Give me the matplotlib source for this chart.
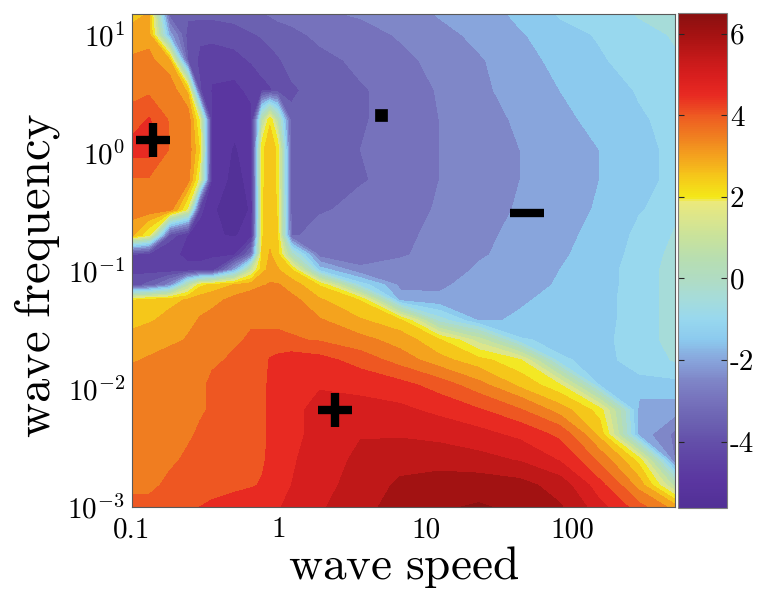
import numpy as np
import matplotlib
matplotlib.use("Agg")
import matplotlib.pyplot as plt
from matplotlib.colors import LinearSegmentedColormap, Normalize
from matplotlib.cm import ScalarMappable

plt.rcParams['mathtext.fontset'] = 'cm'

########## data
# grid columns (wave speed) and rows (wave frequency, top to bottom)
speed = [0.1, 0.13, 0.18, 0.24, 0.29, 0.35, 0.5, 0.65, 0.77, 0.87, 0.98, 1.22,
         1.9, 3.6, 6.7, 12.4, 23, 44, 82, 153, 286, 500]
freq = [15, 10, 6.1, 3.4, 1.9, 1.06, 0.59, 0.33, 0.2, 0.137, 0.102, 0.076,
        0.057, 0.038, 0.026, 0.0176, 0.0108, 0.0066, 0.0041, 0.0025, 0.00153, 0.001]

# colour-coded quantity, one row per frequency
field = [
    [2.5, 2.8, -3.5, -3.6, -3.6, -3.6, -3.5, -3.4, -3.3, -3.2, -3.1, -3.0, -2.8, -2.7, -2.55, -2.2, -2.0, -1.6, -1.2, -1.0, -0.7, -0.6],
    [3.0, 3.0, -2.0, -4.0, -4.1, -4.1, -4.0, -3.8, -3.7, -3.6, -3.5, -3.4, -3.1, -2.9, -2.7, -2.4, -2.1, -1.8, -1.4, -1.2, -0.9, -0.7],
    [3.3, 3.4, 2.8, -3.8, -4.4, -4.5, -4.4, -4.2, -4.0, -3.9, -3.8, -3.6, -3.4, -3.1, -2.85, -2.6, -2.3, -1.9, -1.6, -1.3, -1.0, -0.8],
    [3.6, 3.6, 3.6, 2.6, -4.2, -4.8, -4.9, -4.6, -4.4, -4.3, -4.1, -3.8, -3.6, -3.3, -3.0, -2.7, -2.35, -2.0, -1.75, -1.45, -1.2, -1.0],
    [3.9, 4.3, 3.7, 3.6, 1.6, -4.9, -5.1, -4.9, 0.5, 2.2, 0.5, -3.7, -3.6, -3.3, -3.0, -2.75, -2.45, -2.15, -1.85, -1.6, -1.3, -1.1],
    [4.5, 4.5, 3.7, 3.6, 2.2, -5.0, -5.3, -5.0, 2.2, 2.4, 2.2, -3.7, -3.6, -3.25, -3.0, -2.75, -2.5, -2.25, -2.0, -1.75, -1.4, -1.1],
    [3.7, 3.7, 3.6, 3.5, 1.4, -5.0, -5.4, -5.1, 2.2, 2.4, 2.2, -3.7, -3.6, -3.3, -3.0, -2.75, -2.5, -2.25, -2.0, -1.75, -1.4, -1.1],
    [3.6, 3.6, 3.5, 1.6, -4.6, -5.2, -5.5, -5.2, 2.2, 2.5, 2.2, -3.5, -3.3, -3.1, -2.9, -2.7, -2.4, -2.2, -1.9, -1.7, -1.3, -0.9],
    [2.8, 1.8, -4.0, -4.8, -5.0, -5.2, -5.3, -5.0, 2.2, 2.6, 2.3, -3.3, -3.1, -3.0, -2.85, -2.6, -2.35, -2.1, -1.85, -1.6, -1.1, -0.7],
    [-4.4, -4.6, -4.7, -4.8, -4.8, -4.8, -4.8, -3.0, 2.4, 2.8, 2.5, 0.0, -3.0, -2.9, -2.8, -2.55, -2.3, -2.05, -1.8, -1.55, -1.0, -0.6],
    [-4.4, -4.5, -4.6, -4.7, -4.7, -4.6, -2.0, 1.0, 2.6, 2.9, 2.8, 2.3, -1.5, -2.7, -2.6, -2.4, -2.2, -2.0, -1.75, -1.5, -0.9, -0.6],
    [-4.0, -3.6, -2.5, 0.5, 2.1, 2.4, 2.8, 3.0, 3.2, 3.3, 3.3, 3.0, 2.2, -1.0, -2.4, -2.3, -2.1, -1.9, -1.7, -1.5, -0.9, -0.6],
    [2.2, 2.4, 2.6, 2.8, 3.0, 3.1, 3.4, 3.6, 3.7, 3.7, 3.6, 3.4, 2.8, 2.2, -2.0, -2.2, -2.0, -1.8, -1.6, -1.45, -0.9, -0.6],
    [2.6, 2.7, 2.9, 3.1, 3.3, 3.4, 3.6, 3.7, 3.7, 3.7, 3.7, 3.6, 3.3, 2.8, 2.4, -0.5, -1.8, -1.7, -1.55, -1.45, -0.9, -0.6],
    [2.9, 3.0, 3.1, 3.3, 3.5, 3.6, 3.7, 3.8, 3.8, 3.8, 3.8, 3.8, 3.7, 3.4, 3.0, 2.3, 1.0, -1.2, -1.4, -1.4, -0.9, -0.6],
    [3.2, 3.3, 3.5, 3.6, 3.7, 3.7, 3.8, 3.9, 4.0, 4.3, 4.4, 4.5, 4.4, 4.0, 3.5, 2.9, 2.4, 1.8, -1.2, -1.4, -1.0, -0.7],
    [3.5, 3.6, 3.7, 3.7, 3.7, 3.8, 3.9, 4.0, 4.1, 4.35, 4.5, 4.6, 4.7, 4.6, 4.4, 4.0, 3.4, 2.6, 1.8, -1.3, -1.4, -1.4],
    [3.7, 3.7, 3.7, 3.7, 3.7, 3.8, 3.9, 4.0, 4.1, 4.35, 4.5, 4.65, 4.9, 4.9, 4.85, 4.6, 4.3, 3.8, 3.0, 2.0, -2.0, -2.0],
    [3.7, 3.7, 3.7, 3.7, 3.8, 3.8, 3.9, 4.0, 4.1, 4.35, 4.5, 4.65, 4.9, 5.2, 5.2, 5.1, 4.9, 4.6, 4.1, 2.6, -2.0, -2.9],
    [3.7, 3.7, 3.7, 3.8, 3.8, 3.9, 4.0, 4.1, 4.15, 4.4, 4.5, 4.7, 5.0, 5.4, 5.5, 5.5, 5.4, 5.2, 4.7, 3.6, 2.0, -2.8],
    [3.7, 3.7, 3.8, 3.8, 3.9, 4.0, 4.1, 4.2, 4.3, 4.45, 4.55, 4.75, 5.1, 5.5, 5.85, 6.0, 6.0, 5.9, 5.5, 4.4, 3.0, 0.5],
    [3.8, 3.8, 3.9, 4.0, 4.25, 4.35, 4.5, 4.55, 4.6, 4.65, 4.7, 4.9, 5.2, 5.6, 6.0, 6.2, 6.3, 6.1, 5.8, 4.9, 3.9, 3.0],
]

# symbols placed on the map
mark_speed = [0.139, 2.4, 4.95, 49]
mark_freq = [1.29, 0.0066, 2.1, 0.31]
mark_style = ['+', '+', 's', '_']

xticks = [0.1, 1, 10, 100]
xticklabels = ['0.1', '1', '10', '100']
yticks = [1e-3, 1e-2, 1e-1, 1e0, 1e1]
yticklabels = [r'$\mathrm{10^{-3}}$', r'$\mathrm{10^{-2}}$', r'$\mathrm{10^{-1}}$',
               r'$\mathrm{10^{0}}$', r'$\mathrm{10^{1}}$']
cticks = [-4, -2, 0, 2, 4, 6]
cticklabels = ['-4', '-2', '0', '2', '4', '6']

########## colour map (value, colour)
vmin, vmax = -5.63, 6.51
stops = [(-5.63, '#523096'), (-5.0, '#5a36a0'), (-4.5, '#5e42a4'), (-4.0, '#6450aa'),
         (-3.5, '#6c62b2'), (-3.0, '#7672bc'), (-2.5, '#7f86c8'), (-2.0, '#88a6dc'),
         (-1.5, '#8ccaee'), (-1.0, '#98d8ee'), (-0.5, '#a6dcda'), (0.0, '#b0dcc2'),
         (0.5, '#b8deb0'), (1.0, '#c8e29c'), (1.5, '#dce68c'), (1.9, '#ece97a'),
         (2.0, '#f4e818'), (2.5, '#f5c81a'), (3.0, '#f4a21e'), (3.5, '#f07e20'),
         (4.0, '#ee5a22'), (4.5, '#e82a22'), (5.0, '#d81e1e'), (5.5, '#c01818'),
         (6.0, '#a41212'), (6.51, '#8a1010')]
cmap = LinearSegmentedColormap.from_list(
    'wave', [((v - vmin) / (vmax - vmin), c) for v, c in stops])
norm = Normalize(vmin=vmin, vmax=vmax)
levels = np.arange(-5.75, 6.76, 0.5)

########## plot
fig = plt.figure(figsize=(7.58, 5.90), dpi=100)
ax = fig.add_axes([132/758, 83/590, 543/758, 493/590])
cax = fig.add_axes([678/758, 82/590, 49/758, 495/590])

ax.contourf(speed, freq, np.array(field), levels=levels, cmap=cmap, norm=norm)

for xs, ys, m in zip(mark_speed, mark_freq, mark_style):
    if m == 's':
        ax.plot(xs, ys, marker='s', ms=9, color='k', mew=0.5)
    else:
        ax.plot(xs, ys, marker=m, ms=25, color='k', mew=6)

ax.set_xscale('log')
ax.set_yscale('log')
ax.set_xlim(0.1, 500)
ax.set_ylim(1e-3, 15)
ax.set_xticks(xticks, labels=xticklabels, fontfamily='cmr10')
ax.set_yticks(yticks, labels=yticklabels)
ax.minorticks_off()
ax.tick_params(length=0, labelsize=21)
ax.tick_params(axis='x', pad=7)
ax.tick_params(axis='y', pad=5)
for s in ax.spines.values():
    s.set_color('0.35')
    s.set_linewidth(0.8)

ax.set_xlabel(r'$\mathrm{wave\ speed}$', fontsize=34, labelpad=1)
ax.set_ylabel(r'$\mathrm{wave\ frequency}$', fontsize=35)
ax.yaxis.set_label_coords(-0.128, 0.47)

cb = fig.colorbar(ScalarMappable(norm=norm, cmap=cmap), cax=cax, ticks=cticks)
cb.ax.set_yticklabels(cticklabels, fontfamily='cmr10')
cb.outline.set_edgecolor('0.5')
cb.outline.set_linewidth(0.8)
cax.tick_params(which='both', direction='in', left=True, right=True,
                length=4, width=0.8, color='0.15', labelsize=21, pad=2)

fig.savefig('out.png', dpi=100)
